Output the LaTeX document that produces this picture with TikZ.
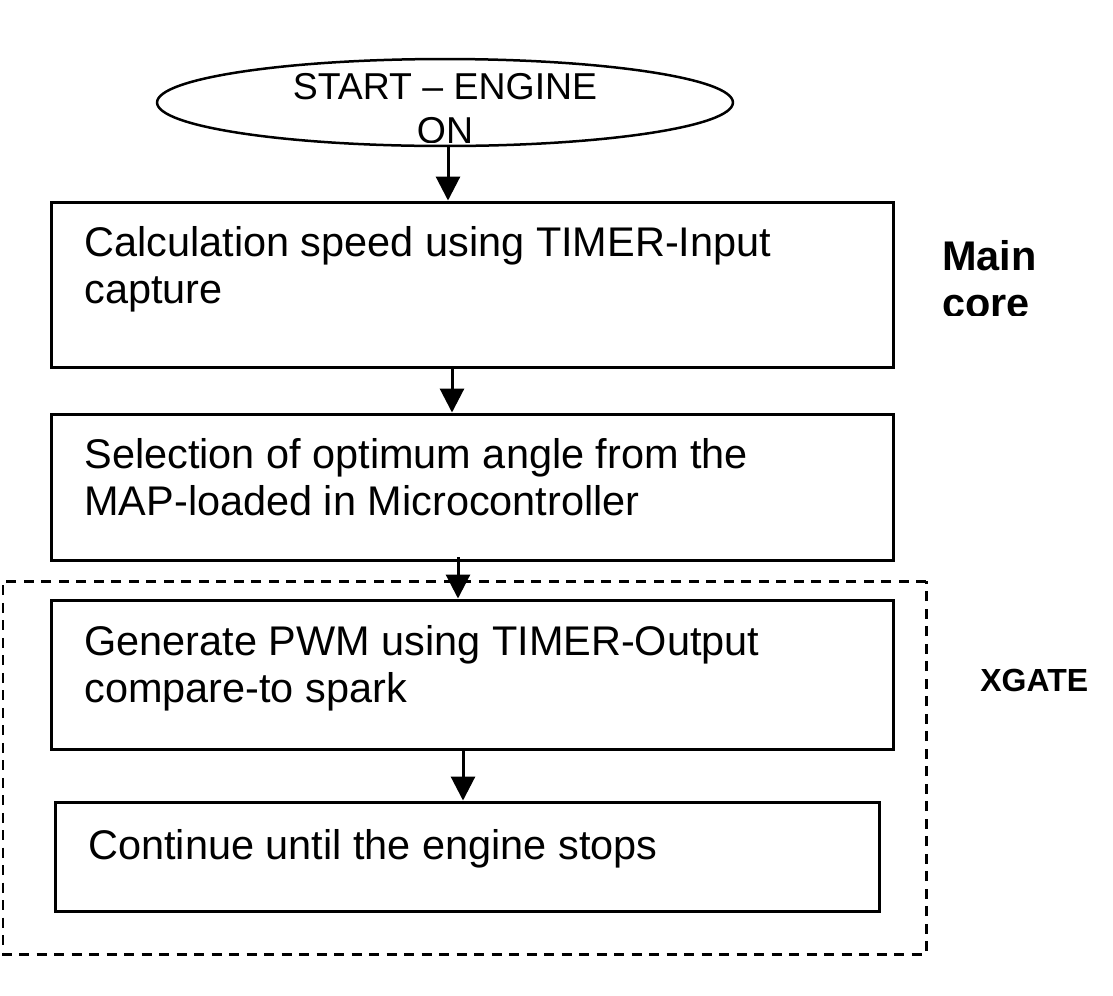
\documentclass[tikz,border=0pt]{standalone}
\usepackage{fontspec}
\setmainfont{Liberation Sans}
\usetikzlibrary{shapes.geometric, arrows.meta}

\begin{document}
\begin{tikzpicture}[x=0.02cm, y=-0.02cm, >={Triangle[length=0.48cm, width=0.48cm]},
    box/.style={draw, line width=0.06cm, minimum width=16.86cm, inner sep=0pt},
    txt/.style={font=\fontsize{23.6}{26.7}\selectfont, inner sep=0pt, anchor=base west},
    side/.style={font=\fontsize{23.6}{26.7}\selectfont\bfseries, inner sep=0pt, anchor=base west},
    arr/.style={->, line width=0.06cm}]
\useasboundingbox (0,0) rectangle (1113,995);

    % Start
    \node[ellipse, draw, line width=0.05cm, minimum width=11.52cm, minimum height=1.74cm] (start) at (445,102.5) {};
    \node[font=\fontsize{21.3}{24}\selectfont, inner sep=0pt, anchor=base] (st1) at (445,99) {START -- ENGINE};
    \begin{scope}
        \clip (0,0) rectangle (1113,142);
        \node[font=\fontsize{21.3}{24}\selectfont, inner sep=0pt, anchor=base] (st2) at (445,143) {ON};
    \end{scope}

    % Main core blocks
    \node[box, minimum height=3.32cm] (box1) at (472.5,285) {};
    \node[txt] (t1a) at (84,256) {Calculation speed using TIMER-Input};
    \node[txt] (t1b) at (84,303) {capture};

    \node[box, minimum height=2.94cm] (box2) at (472.5,487.5) {};
    \node[txt] (t2a) at (84,468) {Selection of optimum angle from the};
    \node[txt] (t2b) at (84,515) {MAP-loaded in Microcontroller};

    % XGATE blocks
    \draw[line width=0.06cm, dash pattern=on 0.2cm off 0.15cm] (926,581) -- (3,581) -- (3,954) -- (926,954) -- cycle;

    \node[box, minimum height=3.0cm] (box3) at (472.5,675) {};
    \node[txt] (t3a) at (84,655) {Generate PWM using TIMER-Output};
    \node[txt] (t3b) at (84,702) {compare-to spark};

    \node[box, minimum width=16.5cm, minimum height=2.18cm] (box4) at (467.5,856.5) {};
    \node[txt] (t4) at (88,859) {Continue until the engine stops};

    % Arrows
    \draw[arr] (448,0 |- start.south) -- (448,0 |- box1.north);
    \draw[arr] (452,0 |- box1.south) -- (452,0 |- box2.north);
    \draw[arr] (458,557) -- (458,0 |- box3.north);
    \draw[arr] (463,0 |- box3.south) -- (463,0 |- box4.north);

    % Labels on the right
    \node[side] (main) at (942,270) {Main};
    \begin{scope}
        \clip (900,280) rectangle (1113,315);
        \node[side] (core) at (942,317) {core};
    \end{scope}
    \node[side, font=\fontsize{18.2}{21}\selectfont\bfseries] (xgate) at (980,691) {XGATE};

\end{tikzpicture}
\end{document}
